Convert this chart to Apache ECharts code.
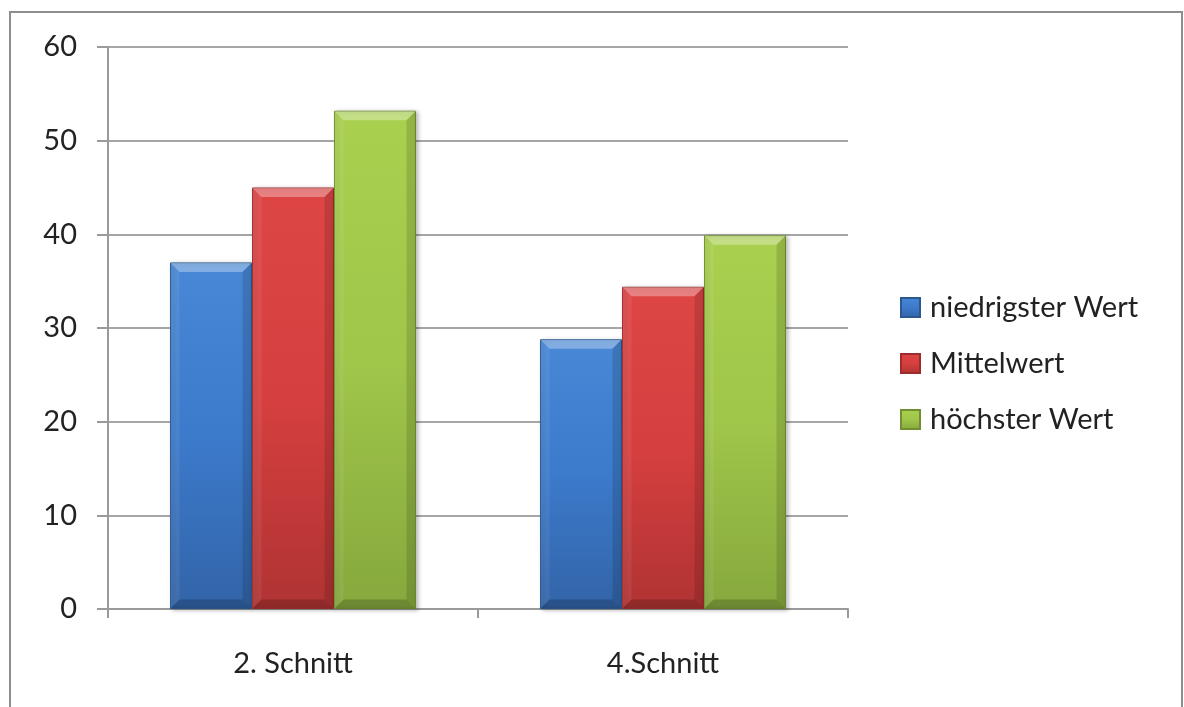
<!DOCTYPE html>
<html>
<head>
<meta charset="utf-8">
<script src="https://cdn.jsdelivr.net/npm/echarts@6/dist/echarts.min.js"></script>
<style>
  html, body { margin: 0; padding: 0; background: #fff; }
  #chart { width: 1184px; height: 707px; }
</style>
</head>
<body>
<div id="chart"></div>
<script>
// Kategorien und Messwerte
var categories = ['2. Schnitt', '4.Schnitt'];
var seriesNames = ['niedrigster Wert', 'Mittelwert', 'höchster Wert'];
var niedrigster = [37.0, 28.8];
var mittelwert = [45.0, 34.4];
var hoechster = [53.2, 39.9];
var yTicks = [0, 10, 20, 30, 40, 50, 60];

var FONT = 'Lato, "Open Sans", sans-serif';
var BAR_W = 82;
var BEVEL = 9;

// Farbverlauf je Serie: hell oben, dunkler unten
function fill(top, mid, bottom) {
  return new echarts.graphic.LinearGradient(0, 0, 0, 1, [
    { offset: 0, color: top },
    { offset: 0.5, color: mid },
    { offset: 1, color: bottom }
  ]);
}
var styles = [
  { fill: fill('#4888d6', '#3c7acb', '#3264a8'), border: '#2b5890' },
  { fill: fill('#de4646', '#d63f3f', '#b03333'), border: '#9e2c2c' },
  { fill: fill('#aad04f', '#a0c64a', '#86a83d'), border: '#6f8f30' }
];

function barSeries(name, data, i) {
  return {
    name: name,
    type: 'bar',
    data: data,
    barWidth: BAR_W,
    barGap: '0%',
    itemStyle: {
      color: styles[i].fill,
      borderColor: styles[i].border,
      borderWidth: 1,
      shadowColor: 'rgba(0,0,0,0.25)',
      shadowBlur: 4,
      shadowOffsetX: 2,
      shadowOffsetY: 1
    }
  };
}

// Abgeschrägte Kanten über jedem Balken: [Kategorie, Wert, Serie]
var allValues = [niedrigster, mittelwert, hoechster];
var bevelData = [];
allValues.forEach(function (vals, s) {
  vals.forEach(function (v, c) { bevelData.push([c, v, s]); });
});

function renderBevel(params, api) {
  var c = api.value(0), v = api.value(1), s = api.value(2);
  var top = api.coord([c, v]);
  var base = api.coord([c, 0]);
  var cx = top[0] + (s - 1) * BAR_W;
  var x0 = cx - BAR_W / 2 + 0.5, x1 = cx + BAR_W / 2 - 0.5;
  var y0 = top[1] + 0.5, y1 = base[1] - 0.5;
  var b = BEVEL;
  function poly(pts, color) {
    return { type: 'polygon', shape: { points: pts }, style: { fill: color }, silent: true };
  }
  return {
    type: 'group',
    children: [
      poly([[x0, y0], [x1, y0], [x1 - b, y0 + b], [x0 + b, y0 + b]], 'rgba(255,255,255,0.32)'),
      poly([[x0, y0], [x0 + b, y0 + b], [x0 + b, y1 - b], [x0, y1]], 'rgba(255,255,255,0.07)'),
      poly([[x1, y0], [x1, y1], [x1 - b, y1 - b], [x1 - b, y0 + b]], 'rgba(0,0,0,0.13)'),
      poly([[x0, y1], [x1, y1], [x1 - b, y1 - b], [x0 + b, y1 - b]], 'rgba(0,0,0,0.18)')
    ]
  };
}

var chart = echarts.init(document.getElementById('chart'), null, { renderer: 'canvas' });
chart.setOption({
  animation: false,
  backgroundColor: '#ffffff',
  graphic: [{
    type: 'rect',
    shape: { x: 10, y: 12, width: 1172, height: 720 },
    style: { fill: 'none', stroke: '#8e8e8e', lineWidth: 2 },
    z: -1
  }],
  grid: { left: 108, right: 336, top: 47, bottom: 98, containLabel: false },
  legend: {
    orient: 'vertical',
    left: 895,
    top: 288,
    itemWidth: 19,
    itemHeight: 19,
    itemGap: 27,
    icon: 'rect',
    data: seriesNames,
    textStyle: { fontFamily: FONT, fontSize: 29, color: '#222', padding: [0, 0, 0, 5] }
  },
  xAxis: {
    type: 'category',
    data: categories,
    axisLine: { lineStyle: { color: '#9a9a9a', width: 2 } },
    axisTick: { show: true, length: 9, lineStyle: { color: '#9a9a9a', width: 2 } },
    axisLabel: { fontFamily: FONT, fontSize: 29, color: '#222', margin: 40 }
  },
  yAxis: {
    type: 'value',
    min: yTicks[0],
    max: yTicks[yTicks.length - 1],
    interval: 10,
    axisLine: { show: true, lineStyle: { color: '#9a9a9a', width: 2 } },
    axisTick: { show: true, inside: false, length: 11, lineStyle: { color: '#9a9a9a', width: 2 } },
    splitLine: { lineStyle: { color: '#a6a6a6', width: 2 } },
    axisLabel: { fontFamily: FONT, fontSize: 29, color: '#222', margin: 31 }
  },
  series: [
    barSeries(seriesNames[0], niedrigster, 0),
    barSeries(seriesNames[1], mittelwert, 1),
    barSeries(seriesNames[2], hoechster, 2),
    {
      type: 'custom',
      name: 'bevel',
      data: bevelData,
      renderItem: renderBevel,
      silent: true,
      z: 3,
      encode: { x: 0, y: 1 },
      tooltip: { show: false }
    }
  ]
});
</script>
</body>
</html>
